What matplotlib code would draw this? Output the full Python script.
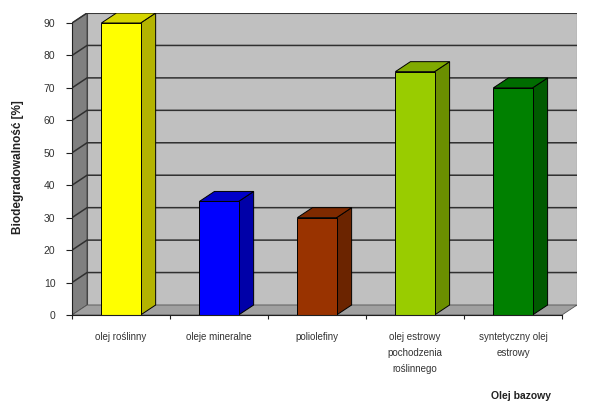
import matplotlib
matplotlib.use("Agg")
import matplotlib.pyplot as plt
from matplotlib.patches import Polygon, Rectangle

categories = ["olej roślinny", "oleje mineralne", "poliolefiny",
              "olej estrowy\npochodzenia\nroślinnego", "syntetyczny olej\nestrowy"]
values = [90, 35, 30, 75, 70]
front_colors = ["#ffff00", "#0000ff", "#993300", "#99cc00", "#008000"]
side_colors = ["#b3b300", "#0000a8", "#6b2400", "#6b8f00", "#005a00"]
top_colors = ["#d6d600", "#0000c8", "#7f2a00", "#80aa00", "#006c00"]
yticks = list(range(0, 100, 10))
ylabel = "Biodegradowalność [%]"
xlabel = "Olej bazowy"

W, H = 591, 405
fig = plt.figure(figsize=(W / 100, H / 100), dpi=100)
plt.rcParams['font.family'] = ['Liberation Sans', 'DejaVu Sans']

left, right, bottom, top = 72, 577, 315, 13
ax = fig.add_axes([left / W, (H - bottom) / H, (right - left) / W, (bottom - top) / H])

n = len(categories)
ymax = 90
px_per_cat = 488 / n
px_per_unit = (bottom - 23) / ymax
dx = 15 / px_per_cat
dy = 10 / px_per_unit
bw = 0.4

x0, x1 = -0.5, n - 0.5
ax.set_xlim(x0, x1 + dx)
ax.set_ylim(0, ymax + dy)
ax.patch.set_alpha(0)

# back wall
ax.add_patch(Rectangle((x0 + dx, dy), x1 - x0, ymax, facecolor="#c0c0c0",
                       edgecolor="#555555", lw=0.8, zorder=0))
# left wall
ax.add_patch(Polygon([(x0, 0), (x0 + dx, dy), (x0 + dx, ymax + dy), (x0, ymax)],
                     closed=True, facecolor="#808080", edgecolor="#333333", lw=0.6, zorder=0.5))
# floor
ax.add_patch(Polygon([(x0, 0), (x1, 0), (x1 + dx, dy), (x0 + dx, dy)],
                     closed=True, facecolor="#a0a0a0", edgecolor="#555555", lw=0.6, zorder=0.5))
# gridlines
for v in yticks[1:]:
    ax.plot([x0, x0 + dx, x1 + dx], [v, v + dy, v + dy], color="#303030", lw=1.1, zorder=0.8)

# bars
for i, (v, fc, sc, tc) in enumerate(zip(values, front_colors, side_colors, top_colors)):
    xl, xr = i - bw / 2, i + bw / 2
    ax.add_patch(Polygon([(xr, 0), (xr + dx, dy), (xr + dx, v + dy), (xr, v)], closed=True,
                         facecolor=sc, edgecolor="#000000", lw=0.7, zorder=2))
    ax.add_patch(Polygon([(xl, v), (xr, v), (xr + dx, v + dy), (xl + dx, v + dy)], closed=True,
                         facecolor=tc, edgecolor="#000000", lw=0.7, zorder=2))
ax.bar(range(n), values, width=bw, color=front_colors, edgecolor="#000000", lw=0.7, zorder=3)

# axes styling
for s in ["top", "right"]:
    ax.spines[s].set_visible(False)
ax.spines["left"].set_bounds(0, ymax)
ax.spines["bottom"].set_bounds(x0, x1)
ax.spines["left"].set_color("#202020")
ax.spines["bottom"].set_color("#202020")
ax.spines["left"].set_zorder(4)
ax.spines["bottom"].set_zorder(4)
ax.set_yticks(yticks)
ax.set_yticklabels([str(t) for t in yticks], fontsize=7.5, color="#333333")
ax.tick_params(axis="y", length=4, pad=8, color="#202020")
ax.set_xticks([i + 0.5 for i in range(-1, n)])
ax.set_xticklabels([])
ax.tick_params(axis="x", which="major", length=3, direction="out", color="#202020")
ax.set_xticks(range(n), minor=True)
ax.set_xticklabels(categories, minor=True, fontsize=7, color="#333333", linespacing=1.8)
ax.tick_params(axis="x", which="minor", length=0, pad=12)

fig.text(18 / W, 1 - 167 / H, ylabel, rotation=90, ha="center", va="center",
         fontsize=8.5, fontweight="bold", color="#222222")
fig.text(521 / W, 1 - 396 / H, xlabel, ha="center", va="center",
         fontsize=7.5, fontweight="bold", color="#222222")

fig.savefig("out.png", dpi=100)
